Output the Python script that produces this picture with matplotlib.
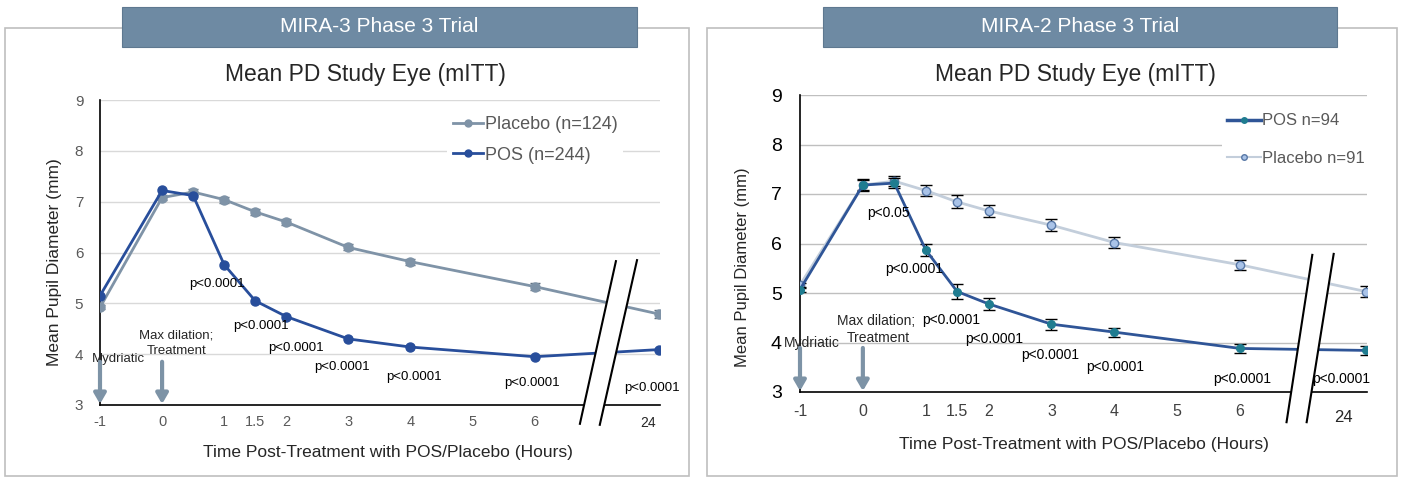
import matplotlib
matplotlib.use("Agg")
import matplotlib.pyplot as plt
from matplotlib.patches import Rectangle, Polygon
from matplotlib.lines import Line2D

plt.rcParams['font.family'] = ['Liberation Sans', 'DejaVu Sans']

W, H = 1402, 483

# ---------------- data ----------------
hours = [-1, 0, 0.5, 1, 1.5, 2, 3, 4, 6, 24]
tick_hours = [-1, 0, 1, 1.5, 2, 3, 4, 5, 6]
tick_labels = ["-1", "0", "1", "1.5", "2", "3", "4", "5", "6"]
break_label = "24"

# MIRA-3
m3_placebo = [4.92, 7.08, 7.19, 7.04, 6.80, 6.60, 6.10, 5.82, 5.33, 4.79]
m3_placebo_err = [0.04, 0.05, 0.05, 0.06, 0.06, 0.06, 0.06, 0.06, 0.07, 0.07]
m3_pos = [5.15, 7.22, 7.12, 5.76, 5.05, 4.74, 4.30, 4.14, 3.95, 4.09]
m3_pos_err = [0.03, 0.03, 0.04, 0.04, 0.04, 0.04, 0.04, 0.04, 0.03, 0.03]
m3_placebo_label = "Placebo (n=124)"
m3_pos_label = "POS (n=244)"

# MIRA-2
m2_pos = [5.07, 7.18, 7.22, 5.87, 5.03, 4.78, 4.37, 4.21, 3.88, 3.84]
m2_pos_err = [0.05, 0.12, 0.10, 0.13, 0.15, 0.12, 0.11, 0.09, 0.09, 0.09]
m2_placebo = [5.16, 7.18, 7.26, 7.07, 6.84, 6.66, 6.37, 6.02, 5.57, 5.03]
m2_placebo_err = [0.05, 0.10, 0.10, 0.12, 0.13, 0.12, 0.12, 0.11, 0.10, 0.11]
m2_pos_label = "POS n=94"
m2_placebo_label = "Placebo n=91"

pval = "p<0.0001"
m3_pvals = [pval] * 7
m2_pvals = ["p<0.05"] + [pval] * 7


def to_pos(h):
    # axis break: the 24 h visit is drawn at position 8
    return h if h <= 6 else 8


x = [to_pos(h) for h in hours]

fig = plt.figure(figsize=(W / 100, H / 100), dpi=100)
fig.patch.set_facecolor("white")


def fr(px0, py0, px1, py1):
    return [px0 / W, 1 - py1 / H, (px1 - px0) / W, (py1 - py0) / H]


# ---------- frames & headers ----------
header_col = "#6E8AA3"
for (fx0, fx1), (hx0, hx1), title, sub, tx in [
        ((5, 689), (122, 637), "MIRA-3 Phase 3 Trial", "Mean PD Study Eye (mITT)", 365),
        ((707, 1397), (823, 1337), "MIRA-2 Phase 3 Trial", "Mean PD Study Eye (mITT)", 1075)]:
    fig.patches.append(Rectangle((fx0 / W, 1 - 476 / H), (fx1 - fx0) / W, (476 - 28) / H,
                                 transform=fig.transFigure, fill=False,
                                 edgecolor="#BFBFBF", lw=1.2, zorder=0))
    fig.patches.append(Rectangle((hx0 / W, 1 - 47 / H), (hx1 - hx0) / W, 40 / H,
                                 transform=fig.transFigure, facecolor=header_col,
                                 edgecolor="#5E7890", lw=0.8, zorder=1))
    fig.text((hx0 + hx1) / 2 / W, 1 - 27 / H, title, color="white", fontsize=15,
             ha="center", va="center", zorder=2)
    fig.text(tx / W, 1 - 75 / H, sub, color="#262626", fontsize=16.5,
             ha="center", va="center")

arrow_col = "#7D93A6"


def setup_axes(ax, tick_size, tick_col, ytick_size, ytick_col, grid_col, ypad, xpad):
    ax.set_xlim(-1, 8.02)
    ax.set_ylim(3, 9)
    ax.set_yticks(range(3, 10))
    ax.set_xticks(tick_hours)
    ax.set_xticklabels(tick_labels)
    for s in ["top", "right"]:
        ax.spines[s].set_visible(False)
    for s in ["left", "bottom"]:
        ax.spines[s].set_color("black")
        ax.spines[s].set_linewidth(1.2)
    ax.tick_params(axis="x", length=0, labelsize=tick_size, labelcolor=tick_col, pad=xpad)
    ax.tick_params(axis="y", length=0, labelsize=ytick_size, labelcolor=ytick_col, pad=ypad)
    for v in range(4, 10):
        ax.axhline(v, color=grid_col, lw=1, zorder=0.5)


def draw_break(ax, l1, l2):
    (bx1, by1), (tx1, ty1) = l1
    (bx2, by2), (tx2, ty2) = l2
    poly = Polygon([(bx1, by1), (tx1, ty1), (tx2, ty2), (bx2, by2)], closed=True,
                   facecolor="white", edgecolor="none", zorder=6, clip_on=False)
    ax.add_patch(poly)
    ax.plot([bx1, tx1], [by1, ty1], color="black", lw=1.5, zorder=7, clip_on=False)
    ax.plot([bx2, tx2], [by2, ty2], color="black", lw=1.5, zorder=7, clip_on=False)


def draw_arrows(ax, y0):
    for xa in (-1, 0):
        ax.annotate("", xy=(xa, 3.02), xytext=(xa, y0), annotation_clip=False,
                    arrowprops=dict(arrowstyle="-|>,head_width=0.35,head_length=0.6",
                                    color=arrow_col, lw=3, shrinkA=0, shrinkB=0),
                    zorder=8)


# ---------------- MIRA-3 (left) ----------------
ax1 = fig.add_axes(fr(100, 100, 660, 405))
setup_axes(ax1, 10.5, "#595959", 11, "#595959", "#D9D9D9", 12, 7)
pl_col = "#7F93A7"
pos_col = "#284E9B"
ax1.errorbar(x, m3_placebo, yerr=m3_placebo_err, color=pl_col, lw=2, marker="o",
             ms=6.5, ecolor="#5F6F7F", elinewidth=1, capsize=3.5, zorder=3)
ax1.errorbar(x, m3_pos, yerr=m3_pos_err, color=pos_col, lw=2, marker="o",
             ms=6.5, ecolor="#1D3C78", elinewidth=1, capsize=3, zorder=4)
h1 = [Line2D([], [], color=pl_col, lw=2, marker="o", ms=5),
      Line2D([], [], color=pos_col, lw=2, marker="o", ms=5)]
leg1 = ax1.legend(h1, [m3_placebo_label, m3_pos_label], loc="upper left",
                  bbox_to_anchor=(0.62, 0.965), fontsize=13,
                  frameon=True, facecolor="white", edgecolor="none", framealpha=1,
                  handlelength=1.7, handletextpad=0.1, labelspacing=0.75,
                  borderpad=0.3, borderaxespad=0)
for t in leg1.get_texts():
    t.set_color("#595959")
leg1.set_zorder(9)
ax1.set_ylabel("Mean Pupil Diameter (mm)", fontsize=12.5, color="#262626")
ax1.yaxis.set_label_coords(-0.068, 0.47)
ax1.set_xlabel("Time Post-Treatment with POS/Placebo (Hours)", fontsize=12.5,
               color="#262626")
ax1.xaxis.set_label_coords(0.514, -0.13)
ax1.text(7.82, 3 - 18 / 50.8, break_label, fontsize=10, color="#262626",
         ha="center", va="center")
draw_break(ax1, ((6.73, 2.63), (7.31, 5.83)), ((7.05, 2.61), (7.65, 5.85)))
m3_p_xy = [(0.89, 5.38), (1.60, 4.56), (2.15, 4.12), (2.89, 3.75), (4.05, 3.55),
           (5.95, 3.43), (7.89, 3.33)]
for (px, py), s in zip(m3_p_xy, m3_pvals):
    ax1.text(px, py, s, fontsize=9.5, ha="center", va="center", color="black",
             zorder=10, clip_on=False)
ax1.text(-0.71, 3.91, "Mydriatic", fontsize=9.5, ha="center", va="center", color="#262626")
ax1.text(0.23, 4.36, "Max dilation;", fontsize=9.5, ha="center", va="center", color="#262626")
ax1.text(0.24, 4.06, "Treatment", fontsize=9.5, ha="center", va="center", color="#262626")
draw_arrows(ax1, 3.85)

# ---------------- MIRA-2 (right) ----------------
ax2 = fig.add_axes(fr(800, 95, 1367, 392))
setup_axes(ax2, 11.5, "#404040", 14, "black", "#BFBFBF", 13, 9)
pos2_col = "#2F5597"
pl2_col = "#C3CEDB"
ax2.errorbar(x, m2_placebo, yerr=m2_placebo_err, color=pl2_col, lw=2, marker="o",
             ms=6, mfc="#A9C3E8", mec="#5878A6", mew=1, ecolor="black",
             elinewidth=1, capsize=4, zorder=3)
ax2.errorbar(x, m2_pos, yerr=m2_pos_err, color=pos2_col, lw=2, marker="o",
             ms=5.5, mfc="#1F7C90", mec="#1F7C90", ecolor="black",
             elinewidth=1, capsize=4, zorder=4)
h2 = [Line2D([], [], color=pos2_col, lw=2.5, marker="o", ms=4,
             mfc="#1F7C90", mec="#1F7C90"),
      Line2D([], [], color=pl2_col, lw=1.5, marker="o", ms=4,
             mfc="#A9C3E8", mec="#5878A6")]
leg2 = ax2.legend(h2, [m2_pos_label, m2_placebo_label], loc="upper left",
                  bbox_to_anchor=(0.745, 0.955), fontsize=12,
                  frameon=True, facecolor="white", edgecolor="none", framealpha=1,
                  handlelength=2.0, handletextpad=0.1, labelspacing=1.35,
                  borderpad=0.3, borderaxespad=0)
for t in leg2.get_texts():
    t.set_color("#595959")
leg2.set_zorder(9)
ax2.set_ylabel("Mean Pupil Diameter (mm)", fontsize=12, color="#262626")
ax2.yaxis.set_label_coords(-0.088, 0.42)
ax2.set_xlabel("Time Post-Treatment with POS/Placebo (Hours)", fontsize=12.5,
               color="#262626")
ax2.xaxis.set_label_coords(0.5, -0.152)
ax2.text(7.65, 3 - 25 / 49.5, break_label, fontsize=12, color="#262626",
         ha="center", va="center")
draw_break(ax2, ((6.74, 2.39), (7.15, 5.77)), ((7.06, 2.39), (7.49, 5.79)))
m2_p_xy = [(0.40, 6.62), (0.82, 5.48), (1.40, 4.45), (2.09, 4.07), (2.98, 3.75),
           (4.02, 3.51), (6.04, 3.26), (7.61, 3.26)]
for (px, py), s in zip(m2_p_xy, m2_pvals):
    ax2.text(px, py, s, fontsize=10, ha="center", va="center", color="black",
             zorder=10, clip_on=False)
ax2.text(-0.81, 3.99, "Mydriatic", fontsize=10, ha="center", va="center", color="#262626")
ax2.text(0.21, 4.43, "Max dilation;", fontsize=10, ha="center", va="center", color="#262626")
ax2.text(0.24, 4.09, "Treatment", fontsize=10, ha="center", va="center", color="#262626")
draw_arrows(ax2, 3.89)

fig.savefig("out.png", dpi=100, facecolor="white")
